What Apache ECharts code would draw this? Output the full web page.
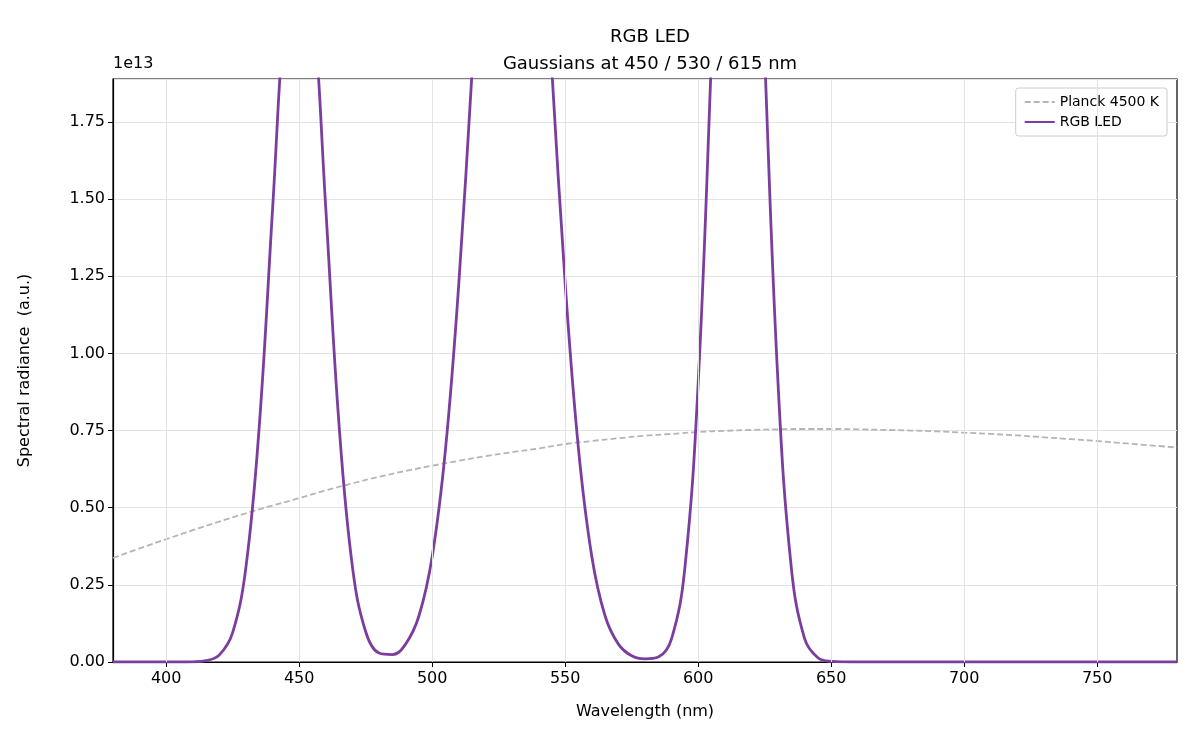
<!DOCTYPE html>
<html><head><meta charset="utf-8">
<script src="https://cdn.jsdelivr.net/npm/echarts@6/dist/echarts.min.js"></script>
<style>html,body{margin:0;padding:0;background:#fff}#c{width:1200px;height:750px}</style>
</head><body><div id="c"></div>
<script>
// values in units of 1e13
const ledWavelengths = [380,385,390,395,400,405,410,415,420,425,430,435,440,445,450,455,460,465,470,475,480,485,490,495,500,505,510,515,520,525,530,535,540,545,550,555,560,565,570,575,580,585,590,595,600,605,610,615,620,625,630,635,640,645,650,655,660,665,670,675,680,685,690,695,700,705,710,715,720,725,730,735,740,745,750,755,760,765,770,775,780];
const ledValues = [0,0,0,0,0,0,0.0006,0.0042,0.023,0.096,0.309,0.766,1.469,2.169,2.47,2.169,1.469,0.766,0.309,0.098,0.029,0.024,0.058,0.149,0.342,0.690,1.226,1.915,2.635,3.19,3.4,3.19,2.635,1.915,1.226,0.690,0.342,0.149,0.058,0.020,0.010,0.016,0.076,0.306,0.905,1.963,3.126,3.65,3.126,1.963,0.905,0.306,0.076,0.0138,0.0018,0.0002,0,0,0,0,0,0,0,0,0,0,0,0,0,0,0,0,0,0,0,0,0,0,0,0,0];
const planckWavelengths = [380,390,400,410,420,430,440,450,460,470,480,490,500,510,520,530,540,550,560,570,580,590,600,610,620,630,640,650,660,670,680,690,700,710,720,730,740,750,760,770,780];
const planckValues = [0.337,0.368,0.398,0.427,0.455,0.482,0.507,0.531,0.556,0.579,0.600,0.619,0.636,0.652,0.667,0.680,0.692,0.706,0.716,0.725,0.733,0.739,0.745,0.749,0.752,0.754,0.755,0.755,0.754,0.752,0.750,0.747,0.743,0.739,0.734,0.728,0.722,0.716,0.709,0.702,0.695];
const xTicks = [400,450,500,550,600,650,700,750];

const F = 'DejaVu Sans';
const chart = echarts.init(document.getElementById('c'));
chart.setOption({
  animation:false,
  title:{text:'RGB LED\nGaussians at 450 / 530 / 615 nm',left:645,textAlign:'center',top:19,
    textStyle:{fontFamily:F,fontSize:18,fontWeight:'normal',color:'#000',lineHeight:27}},
  grid:{left:113,right:23,top:79,bottom:88,show:true,borderColor:'#000',borderWidth:1.2},
  legend:{right:33,top:88,orient:'vertical',itemGap:6,itemWidth:30,itemHeight:12,
    backgroundColor:'#fff',borderColor:'#ccc',borderWidth:1,borderRadius:3,padding:[7,8,7,8],
    textStyle:{fontFamily:F,fontSize:14,color:'#000'},
    data:[{name:'Planck 4500 K',itemStyle:{opacity:0}},{name:'RGB LED',itemStyle:{opacity:0}}]},
  xAxis:{type:'value',min:380,max:780,name:'Wavelength (nm)',nameLocation:'middle',nameGap:42,
    nameTextStyle:{fontFamily:F,fontSize:16,color:'#000'},
    axisLine:{show:true,lineStyle:{color:'#000',width:1.2}},splitLine:{show:false},
    axisTick:{show:true,length:5,customValues:xTicks,lineStyle:{color:'#000'}},
    axisLabel:{customValues:xTicks,fontFamily:F,fontSize:16,color:'#000',margin:9}},
  yAxis:{type:'value',min:0,max:1.889,interval:0.25,name:'Spectral radiance  (a.u.)',nameLocation:'middle',nameGap:80,
    nameTextStyle:{fontFamily:F,fontSize:16,color:'#000'},
    axisLine:{show:true,lineStyle:{color:'#000',width:1.2}},axisTick:{show:true,length:5,lineStyle:{color:'#000'}},
    splitLine:{show:true,lineStyle:{color:'#e3e3e3',width:1}},
    axisLabel:{fontFamily:F,fontSize:16,color:'#000',showMaxLabel:false,formatter:v=>v.toFixed(2)}},
  graphic:[{type:'text',left:113,top:56,style:{text:'1e13',font:'16px "DejaVu Sans"',fill:'#000'}}],
  series:[
    {name:'Planck 4500 K',type:'line',symbol:'none',smooth:true,z:2,
      data:planckWavelengths.map((w,i)=>[w,planckValues[i]]),
      lineStyle:{color:'#b5b5b5',width:1.8,type:[6,3]},itemStyle:{color:'#b5b5b5'},
      markLine:{silent:true,symbol:'none',label:{show:false},lineStyle:{color:'#e3e3e3',width:1,type:'solid'},
        data:xTicks.map(t=>({xAxis:t}))}},
    {name:'RGB LED',type:'line',symbol:'none',smooth:0.4,z:3,clip:true,
      data:ledWavelengths.map((w,i)=>[w,ledValues[i]]),
      lineStyle:{color:'#7b3d9e',width:2.8},itemStyle:{color:'#7b3d9e'}}
  ]
});
</script></body></html>
